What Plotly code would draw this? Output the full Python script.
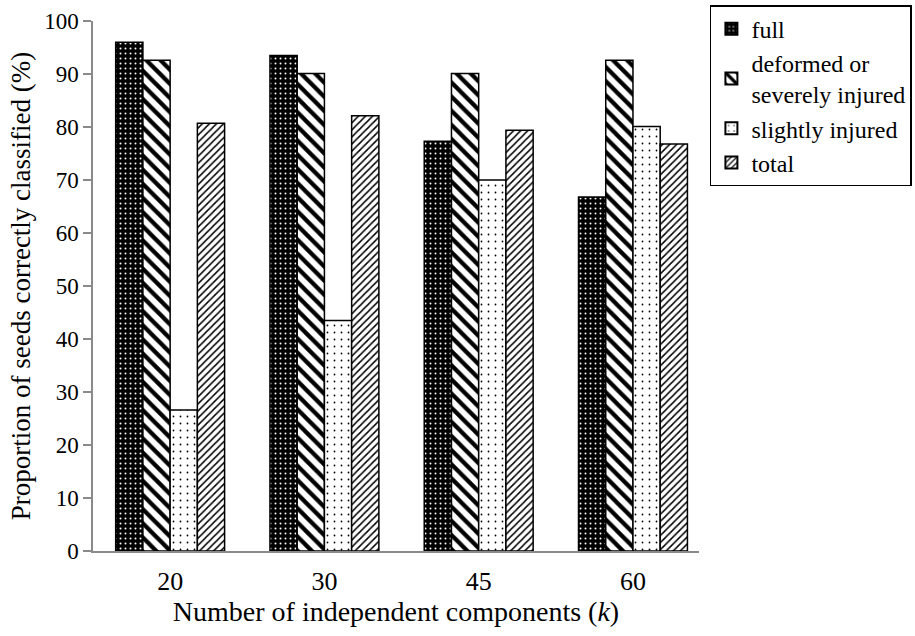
import plotly.graph_objects as go

categories = ["20", "30", "45", "60"]
full = [96.0, 93.5, 77.3, 66.8]
deformed = [92.6, 90.1, 90.1, 92.6]
slightly = [26.6, 43.5, 70.0, 80.1]
total = [80.7, 82.1, 79.4, 76.8]

series_names = ["full", "deformed or<br>severely injured", "slightly injured", "total"]

FONT = "Liberation Serif"
AXIS_GRAY = "#8a8a8a"

patterns = [
    dict(shape=".", bgcolor="black", fgcolor="white", size=5, solidity=0.12, fillmode="replace"),
    dict(shape="\\", bgcolor="white", fgcolor="black", size=10, solidity=0.42, fillmode="replace"),
    dict(shape=".", bgcolor="white", fgcolor="black", size=7, solidity=0.05, fillmode="replace"),
    dict(shape="/", bgcolor="white", fgcolor="black", size=5, solidity=0.3, fillmode="replace"),
]
colors = ["black", "white", "white", "white"]

fig = go.Figure()
for name, vals, pat, col in zip(series_names, [full, deformed, slightly, total], patterns, colors):
    fig.add_trace(go.Bar(
        x=categories, y=vals, name=name,
        marker=dict(color=col, pattern=pat, line=dict(color="black", width=1.5)),
    ))

fig.update_layout(
    width=915, height=636,
    paper_bgcolor="white", plot_bgcolor="white",
    margin=dict(l=93, r=216, t=21, b=85, autoexpand=False),
    barmode="group", bargap=0.294, bargroupgap=0,
    font=dict(family=FONT, color="black", size=24),
    showlegend=True,
    legend=dict(
        x=1.018, y=1.03, xanchor="left", yanchor="top",
        bgcolor="white", bordercolor="black", borderwidth=1.5,
        font=dict(family=FONT, size=24, color="black"),
        tracegroupgap=0, itemsizing="constant", itemwidth=30,
    ),
    xaxis=dict(
        type="category", range=[-0.5, 3.428],
        showline=True, linecolor=AXIS_GRAY, linewidth=1.5,
        ticks="", showgrid=False, zeroline=False,
        tickfont=dict(family=FONT, size=26, color="black"),
        ticklabelstandoff=6,
        title=dict(text="Number of independent components (<i>k</i>)",
                   font=dict(family=FONT, size=28, color="black"), standoff=0),
    ),
    yaxis=dict(
        range=[0, 100], dtick=10, tick0=0,
        showline=True, linecolor=AXIS_GRAY, linewidth=1.5,
        ticks="outside", ticklen=8, tickcolor=AXIS_GRAY, tickwidth=1.5,
        showgrid=False, zeroline=False,
        tickfont=dict(family=FONT, size=23, color="black"),
        title=dict(text="Proportion of seeds correctly classified (%)",
                   font=dict(family=FONT, size=27, color="black"), standoff=6),
    ),
)

fig.write_html("out.html", config={"displayModeBar": False},
               post_script="document.body.style.margin='0';document.body.style.overflow='hidden';")
